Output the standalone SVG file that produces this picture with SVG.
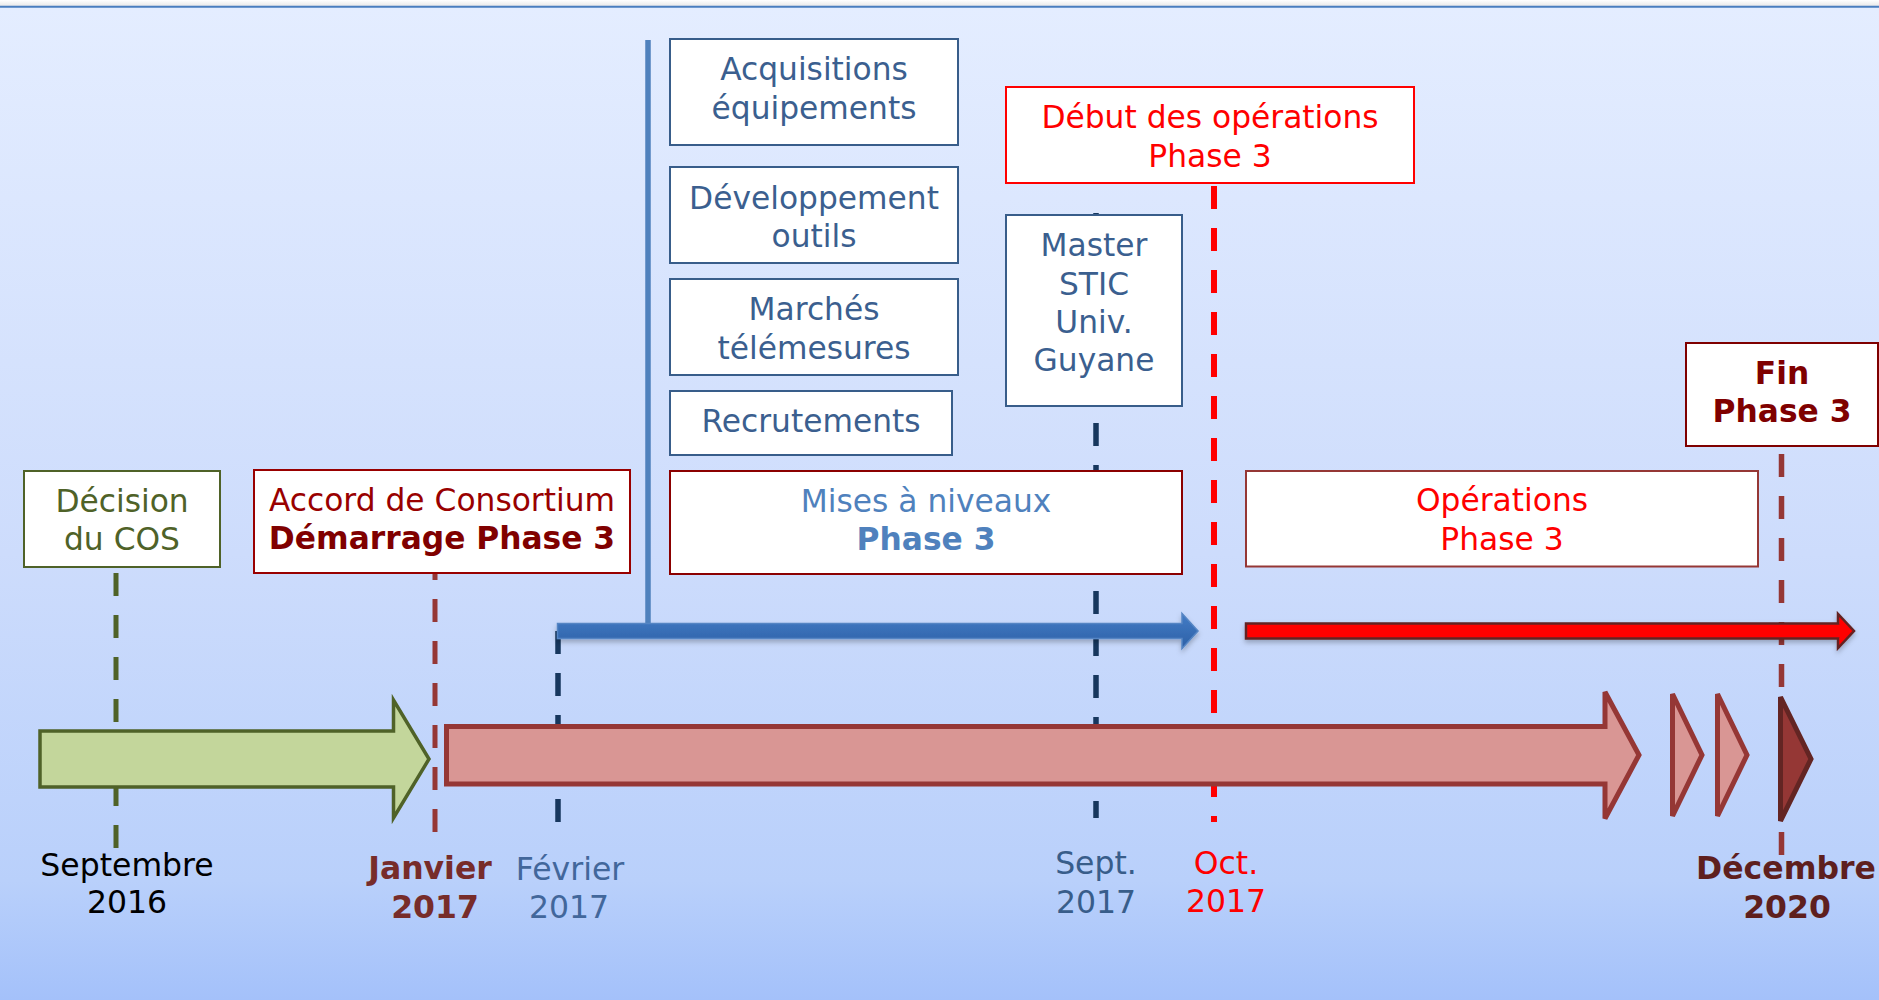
<svg xmlns="http://www.w3.org/2000/svg" width="1879" height="1000" viewBox="0 0 1879 1000">
  <defs>
    <linearGradient id="bg" x1="0" y1="0" x2="0" y2="1">
      <stop offset="0" stop-color="#e4edff"/>
      <stop offset="0.55" stop-color="#cddcfc"/>
      <stop offset="0.88" stop-color="#b9d0fb"/>
      <stop offset="1" stop-color="#a4c1fa"/>
    </linearGradient>
    <linearGradient id="topstrip" x1="0" y1="0" x2="0" y2="1">
      <stop offset="0" stop-color="#ffffff"/>
      <stop offset="1" stop-color="#e9e9e9"/>
    </linearGradient>
    <linearGradient id="blueArrow" x1="0" y1="0" x2="0" y2="1">
      <stop offset="0" stop-color="#437cc6"/>
      <stop offset="1" stop-color="#2d60a6"/>
    </linearGradient>
    <filter id="shadow" x="-5%" y="-50%" width="110%" height="200%">
      <feDropShadow dx="0" dy="3" stdDeviation="2.5" flood-color="#000" flood-opacity="0.25"/>
    </filter>
    <style>
      .box { fill: #ffffff; stroke-width: 2; }
      .t { font-family: "DejaVu Sans", Verdana, sans-serif; font-size: 31.3px; text-anchor: middle; }
      .d { font-family: "DejaVu Sans", Verdana, sans-serif; font-size: 31.5px; text-anchor: middle; }
      .b { font-weight: bold; }
      .dash { fill: none; stroke-dasharray: 23 19; }
    </style>
  </defs>

  <!-- background -->
  <rect x="0" y="0" width="1879" height="6" fill="url(#topstrip)"/>
  <rect x="0" y="7" width="1879" height="993" fill="url(#bg)"/>
  <line x1="0" y1="6.7" x2="1879" y2="6.7" stroke="#4a7ebf" stroke-width="2"/>

  <!-- connectors -->
  <g id="connectors">
    <line class="dash" x1="116" y1="573" x2="116" y2="848" stroke="#4f6228" stroke-width="5"/>
    <line class="dash" x1="435" y1="557" x2="435" y2="833" stroke="#953735" stroke-width="5"/>
    <line class="dash" x1="558" y1="631" x2="558" y2="823" stroke="#17375e" stroke-width="5.5"/>
    <line class="dash" x1="1096" y1="213" x2="1096" y2="818" stroke="#17375e" stroke-width="5.5"/>
    <line class="dash" x1="1214" y1="186" x2="1214" y2="822" stroke="#ff0000" stroke-width="6"/>
    <line class="dash" x1="1781.5" y1="454" x2="1781.5" y2="855" stroke="#953735" stroke-width="5.5"/>
    <line x1="648" y1="40" x2="648" y2="624" stroke="#4f81bd" stroke-width="5.5"/>
  </g>

  <!-- timeline arrows -->
  <g id="timeline">
    <path id="arrow-blue" d="M557.5,623.5 H1182 V613.5 L1198,631 L1182,648.5 V638.5 H557.5 Z" fill="url(#blueArrow)" stroke="#5585c4" stroke-width="1.5" filter="url(#shadow)"/>
    <path id="arrow-red" d="M1246,623.5 H1838 V614 L1854,631 L1838,648 V638.5 H1246 Z" fill="#ff0000" stroke="#632423" stroke-width="2.5" filter="url(#shadow)"/>
    <path id="arrow-green" d="M40,731 H393.5 V700 L429,759 L393.5,818 V787 H40 Z" fill="#c3d69b" stroke="#4f6228" stroke-width="3.5"/>
    <path id="arrow-phase3" d="M446.5,726.5 H1605 V692 L1639,755 L1605,818.5 V784 H446.5 Z" fill="#d99694" stroke="#953735" stroke-width="5"/>
    <path id="chevron-1" d="M1672.5,694 L1702,755 L1672.5,816 Z" fill="#d99694" stroke="#953735" stroke-width="5"/>
    <path id="chevron-2" d="M1717.5,694 L1747,755 L1717.5,816 Z" fill="#d99694" stroke="#953735" stroke-width="5"/>
    <path id="chevron-3" d="M1780.5,697 L1811,759 L1780.5,821 Z" fill="#953735" stroke="#632523" stroke-width="5"/>
  </g>

  <!-- nodes -->
  <g id="decision-cos">
    <rect class="box" x="24" y="471" width="196" height="96" stroke="#4f6228"/>
    <text class="t" x="122" y="512" fill="#4f6228">Décision</text>
    <text class="t" x="122" y="550" fill="#4f6228">du COS</text>
  </g>
  <g id="accord-consortium">
    <rect class="box" x="254" y="470" width="376" height="103" stroke="#990000"/>
    <text class="t" x="442" y="511" fill="#990000">Accord de Consortium</text>
    <text class="t b" x="442" y="549" fill="#800000">Démarrage Phase 3</text>
  </g>
  <g id="acquisitions">
    <rect class="box" x="670" y="39" width="288" height="106" stroke="#385d8a"/>
    <text class="t" x="814" y="80" fill="#3b5f8f">Acquisitions</text>
    <text class="t" x="814" y="118.5" fill="#3b5f8f">équipements</text>
  </g>
  <g id="developpement">
    <rect class="box" x="670" y="167" width="288" height="96" stroke="#385d8a"/>
    <text class="t" x="814" y="208.5" fill="#3b5f8f">Développement</text>
    <text class="t" x="814" y="247" fill="#3b5f8f">outils</text>
  </g>
  <g id="marches">
    <rect class="box" x="670" y="279" width="288" height="96" stroke="#385d8a"/>
    <text class="t" x="814" y="319.5" fill="#3b5f8f">Marchés</text>
    <text class="t" x="814" y="358.5" fill="#3b5f8f">télémesures</text>
  </g>
  <g id="recrutements">
    <rect class="box" x="670" y="391" width="282" height="64" stroke="#385d8a"/>
    <text class="t" x="811" y="431.5" fill="#3b5f8f">Recrutements</text>
  </g>
  <g id="mises-a-niveaux">
    <rect class="box" x="670" y="471" width="512" height="103" stroke="#8b0000"/>
    <text class="t" x="926" y="512" fill="#4f81bd">Mises à niveaux</text>
    <text class="t b" x="926" y="550" fill="#4f81bd">Phase 3</text>
  </g>
  <g id="debut-operations">
    <rect class="box" x="1006" y="87" width="408" height="96" stroke="#ff0000"/>
    <text class="t" x="1210" y="128" fill="#ff0000">Début des opérations</text>
    <text class="t" x="1210" y="166.5" fill="#ff0000">Phase 3</text>
  </g>
  <g id="master-stic">
    <rect class="box" x="1006" y="215" width="176" height="191" stroke="#385d8a"/>
    <text class="t" x="1094" y="255.5" fill="#3b5f8f">Master</text>
    <text class="t" x="1094" y="294.5" fill="#3b5f8f">STIC</text>
    <text class="t" x="1094" y="333" fill="#3b5f8f">Univ.</text>
    <text class="t" x="1094" y="370.5" fill="#3b5f8f">Guyane</text>
  </g>
  <g id="operations">
    <rect class="box" x="1246" y="471" width="512" height="95.5" stroke="#953735"/>
    <text class="t" x="1502" y="511" fill="#ff0000">Opérations</text>
    <text class="t" x="1502" y="550" fill="#ff0000">Phase 3</text>
  </g>
  <g id="fin-phase3">
    <rect class="box" x="1686" y="343" width="192" height="103" stroke="#7f0000"/>
    <text class="t b" x="1782" y="383.5" fill="#7f0000">Fin</text>
    <text class="t b" x="1782" y="421.5" fill="#7f0000">Phase 3</text>
  </g>

  <!-- date labels -->
  <g id="dates">
    <g id="date-sept-2016">
      <text class="d" x="127" y="876" fill="#000000">Septembre</text>
      <text class="d" x="127" y="913" fill="#000000">2016</text>
    </g>
    <g id="date-jan-2017">
      <text class="d b" x="430" y="879" fill="#772c2a">Janvier</text>
      <text class="d b" x="435" y="918" fill="#772c2a">2017</text>
    </g>
    <g id="date-feb-2017">
      <text class="d" x="570" y="880" fill="#42679b">Février</text>
      <text class="d" x="569" y="918" fill="#42679b">2017</text>
    </g>
    <g id="date-sept-2017">
      <text class="d" x="1096" y="874" fill="#385d8a">Sept.</text>
      <text class="d" x="1096" y="912.5" fill="#385d8a">2017</text>
    </g>
    <g id="date-oct-2017">
      <text class="d" x="1226" y="874" fill="#ff0000">Oct.</text>
      <text class="d" x="1226" y="911.5" fill="#ff0000">2017</text>
    </g>
    <g id="date-dec-2020">
      <text class="d b" x="1786" y="879" fill="#5e1f1e">Décembre</text>
      <text class="d b" x="1787" y="918" fill="#5e1f1e">2020</text>
    </g>
  </g>
</svg>
